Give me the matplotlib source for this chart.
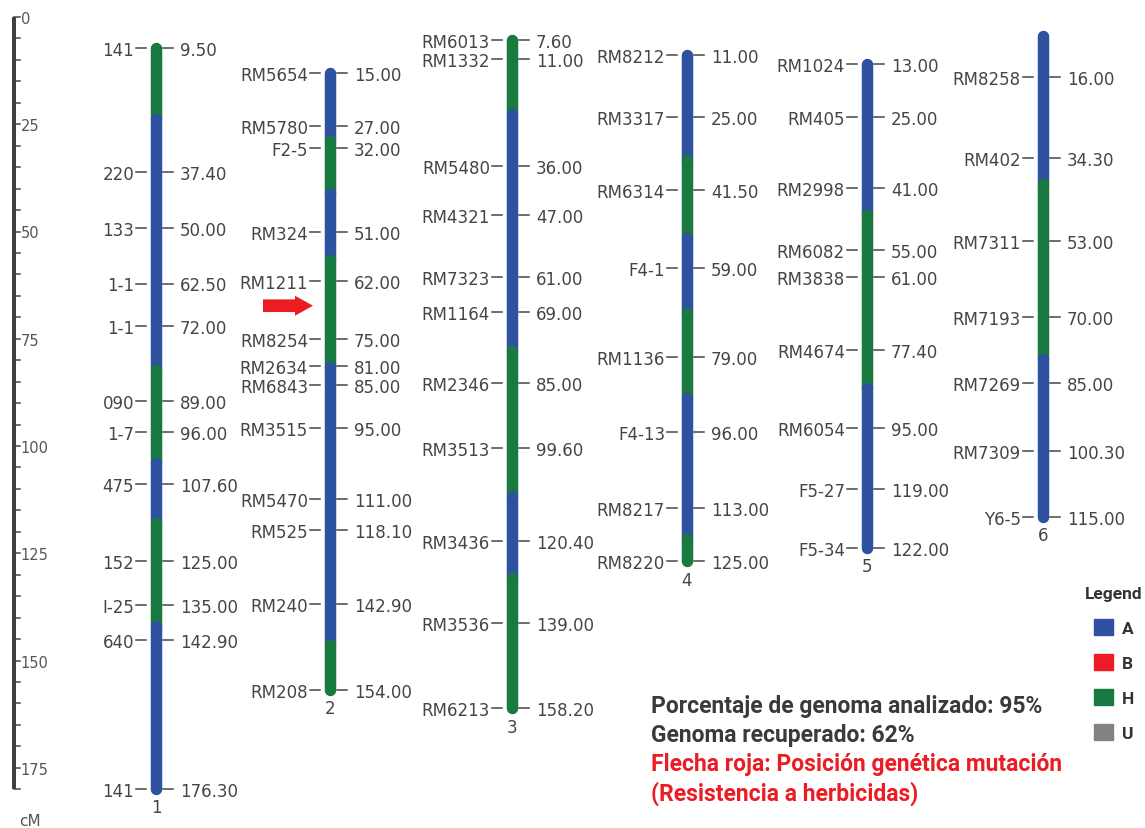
import matplotlib.pyplot as plt
from matplotlib.patches import Patch, FancyArrow

plt.rcParams['font.family'] = ['DejaVu Sans']

W, H = 1145, 829
PX0, PXCM = 7, 4.44        # chromosome scale: pixel of 0 cM, pixels per cM
RPX0, RPXCM = 18, 4.29     # ruler scale

# ---- data ----
chrom_ids = ['1', '2', '3', '4', '5', '6']
chrom_start = [9.5, 15.0, 7.6, 11.0, 13.0, 6.7]
chrom_end = [176.3, 154.0, 158.2, 125.0, 122.0, 115.0]

seg_bounds = [
    [25.5, 82.0, 103.0, 116.5, 139.7],
    [30.3, 42.1, 57.1, 81.4, 144.0],
    [24.4, 77.8, 110.4, 128.8],
    [34.6, 52.2, 69.1, 88.4, 120.1],
    [47.1, 86.1],
    [40.0, 79.4],
]
seg_states = [
    ['H', 'A', 'H', 'A', 'H', 'A'],
    ['A', 'H', 'A', 'H', 'A', 'H'],
    ['H', 'A', 'H', 'A', 'H'],
    ['A', 'H', 'A', 'H', 'A', 'H'],
    ['A', 'H', 'A'],
    ['A', 'H', 'A'],
]

marker_names = [
    ['141', '220', '133', '1-1', '1-1', '090', '1-7', '475', '152', 'I-25', '640', '141'],
    ['RM5654', 'RM5780', 'F2-5', 'RM324', 'RM1211', 'RM8254', 'RM2634', 'RM6843',
     'RM3515', 'RM5470', 'RM525', 'RM240', 'RM208'],
    ['RM6013', 'RM1332', 'RM5480', 'RM4321', 'RM7323', 'RM1164', 'RM2346', 'RM3513',
     'RM3436', 'RM3536', 'RM6213'],
    ['RM8212', 'RM3317', 'RM6314', 'F4-1', 'RM1136', 'F4-13', 'RM8217', 'RM8220'],
    ['RM1024', 'RM405', 'RM2998', 'RM6082', 'RM3838', 'RM4674', 'RM6054', 'F5-27', 'F5-34'],
    ['RM8258', 'RM402', 'RM7311', 'RM7193', 'RM7269', 'RM7309', 'Y6-5'],
]
# position of each marker on the drawn map (cM)
marker_cm = [
    [9.5, 37.4, 50.0, 62.5, 72.0, 89.0, 96.0, 107.6, 125.0, 135.0, 142.9, 176.3],
    [15.0, 27.0, 32.0, 51.0, 62.0, 75.0, 81.0, 85.0, 95.0, 111.0, 118.1, 134.7, 154.0],
    [7.6, 11.0, 36.0, 47.0, 61.0, 69.0, 85.0, 99.6, 120.4, 139.0, 158.2],
    [11.0, 25.0, 41.5, 59.0, 79.0, 96.0, 113.0, 125.0],
    [13.0, 25.0, 41.0, 55.0, 61.0, 77.4, 95.0, 108.8, 122.0],
    [16.0, 34.3, 53.0, 70.0, 85.0, 100.3, 115.0],
]
# printed values
marker_txt = [
    ['9.50', '37.40', '50.00', '62.50', '72.00', '89.00', '96.00', '107.60', '125.00',
     '135.00', '142.90', '176.30'],
    ['15.00', '27.00', '32.00', '51.00', '62.00', '75.00', '81.00', '85.00', '95.00',
     '111.00', '118.10', '142.90', '154.00'],
    ['7.60', '11.00', '36.00', '47.00', '61.00', '69.00', '85.00', '99.60', '120.40',
     '139.00', '158.20'],
    ['11.00', '25.00', '41.50', '59.00', '79.00', '96.00', '113.00', '125.00'],
    ['13.00', '25.00', '41.00', '55.00', '61.00', '77.40', '95.00', '119.00', '122.00'],
    ['16.00', '34.30', '53.00', '70.00', '85.00', '100.30', '115.00'],
]
arrow_chrom = 1
arrow_cm = 67.5

legend_labels = ['A', 'B', 'H', 'U']
legend_colors = ['#2f52a0', '#ec1c24', '#197a3f', '#818285']
state_color = dict(zip(legend_labels, legend_colors))

info_lines = ['Porcentaje de genoma analizado: 95%', 'Genoma recuperado: 62%']
note_lines = ['Flecha roja: Posición genética mutación', '(Resistencia a herbicidas)']

# ---- layout ----
chrom_x = [156, 330, 512, 687, 867, 1043]
TXT = '#454545'
BAR_LW = 11.5 * 72 / 100


def spread(vals, gap=4.3):
    out = []
    for v in vals:
        if out and v < out[-1] + gap:
            v = out[-1] + gap
        out.append(v)
    return out


fig = plt.figure(figsize=(W / 100, H / 100), dpi=100)
ax = fig.add_axes([0, 0, 1, 1])
ax.set_xlim(0, W)
ax.set_ylim((H - PX0) / PXCM, -PX0 / PXCM)
ax.axis('off')

for i, cx in enumerate(chrom_x):
    edges = [chrom_start[i]] + seg_bounds[i] + [chrom_end[i]]
    for k, st in enumerate(seg_states[i]):
        ax.plot([cx, cx], [edges[k], edges[k + 1]], color=state_color[st],
                lw=BAR_LW, solid_capstyle='round', zorder=2 + k * 0.01)
    ys = spread(marker_cm[i])
    for name, txt, y in zip(marker_names[i], marker_txt[i], ys):
        ax.plot([cx - 20, cx - 10], [y, y], color=TXT, lw=1.1, zorder=3)
        ax.plot([cx + 7, cx + 17], [y, y], color=TXT, lw=1.1, zorder=3)
        ax.text(cx - 22, y, name, ha='right', va='center_baseline', fontsize=12, color=TXT)
        ax.text(cx + 24, y, txt, ha='left', va='center_baseline', fontsize=12, color=TXT)
    ax.annotate(chrom_ids[i], (cx, chrom_end[i]), xytext=(0, -12), textcoords='offset points',
                ha='center', va='center_baseline', fontsize=12, color=TXT)

# red arrow pointing at the mutation
ax.add_patch(FancyArrow(chrom_x[arrow_chrom] - 67, arrow_cm, 50, 0, width=2.85,
                        head_width=4.5, head_length=18, length_includes_head=True,
                        color='#ec1c24', lw=0, zorder=4))

# ruler
axr = fig.add_axes([0, 0, 1, 1])
axr.set_xlim(0, W)
axr.set_ylim((H - RPX0) / RPXCM, -RPX0 / RPXCM)
axr.axis('off')
axr.patch.set_visible(False)
axr.plot([13.5, 13.5], [0, 180], color='#404040', lw=4 * 72 / 100, solid_capstyle='butt')
for v in range(0, 181, 5):
    axr.plot([13.5, 20], [v, v], color='#404040', lw=1.5 * 72 / 100)
for v in range(0, 176, 25):
    axr.text(20.5, v, str(v), ha='left', va='center_baseline', fontsize=10.5, color='#555555')
fig.text(30 / W, 1 - 822 / H, 'cM', ha='center', va='center', fontsize=11, color='#555555')

# legend
bold = {'family': 'Roboto', 'weight': 'bold', 'size': 12.5}
handles = [Patch(color=c, label=l) for l, c in zip(legend_labels, legend_colors)]
ax.legend(handles=handles, title='Legend', loc='upper right',
          bbox_to_anchor=(1143 / W, 1 - 587 / H), bbox_transform=fig.transFigure,
          frameon=False, prop=bold, title_fontproperties=bold, labelcolor='#333333',
          handlelength=1.1, handleheight=1.1, labelspacing=1.02, handletextpad=0.5,
          borderpad=0, borderaxespad=0)
ax.get_legend().get_title().set_color('#333333')

# notes
for j, line in enumerate(info_lines + note_lines):
    col = '#3a3a3a' if j < len(info_lines) else '#ec1c24'
    fig.text(651 / W, 1 - (707 + 29 * j) / H, line, ha='left', va='center',
             family='Roboto', weight='bold', fontsize=16.5, color=col)

fig.savefig('out.png', dpi=100)
